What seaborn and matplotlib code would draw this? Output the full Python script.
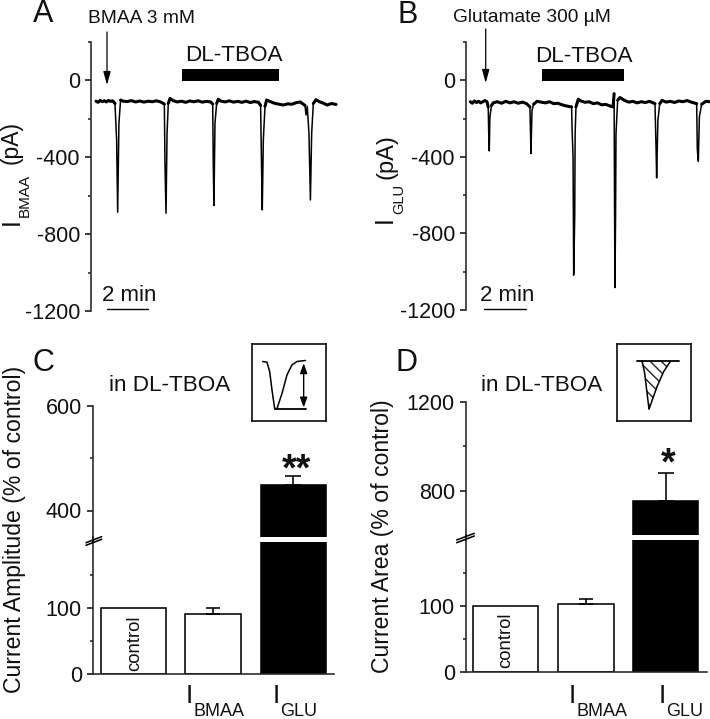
import matplotlib
matplotlib.use('Agg')
import matplotlib.pyplot as plt
import seaborn as sns
import pandas as pd
from matplotlib.lines import Line2D
from matplotlib.patches import Rectangle, FancyArrowPatch

# panel A trace, minutes / pA
time_a = [0, .1, .2, .3, .4, .5, .6, .7, .8, .91, .99, 1.04, 1.10, 1.18, 1.3, 1.5, 1.7, 1.9, 2.1, 2.3, 2.5, 2.7,
          2.9, 3.1, 3.28, 3.31, 3.36, 3.41, 3.47, 3.55, 3.7, 3.9, 4.1, 4.3, 4.5, 4.7, 4.9, 5.1, 5.3, 5.5, 5.60,
          5.63, 5.66, 5.71, 5.79, 5.87, 6.0, 6.2, 6.4, 6.6, 6.8, 7.0, 7.2, 7.4, 7.6, 7.8, 7.90, 7.95, 7.98, 8.03,
          8.11, 8.19, 8.4, 8.6, 8.8, 9.0, 9.2, 9.4, 9.6, 9.8, 10.03, 10.08, 10.14, 10.22, 10.29, 10.35, 10.43,
          10.56, 10.7, 10.9, 11.1, 11.3, 11.52]
current_a = [-108, -114, -104, -110, -106, -112, -104, -109, -106, -120, -310, -686, -223, -102, -108, -110, -105,
             -112, -107, -113, -108, -111, -106, -112, -123, -431, -691, -275, -120, -94, -105, -112, -108, -114,
             -107, -111, -106, -113, -109, -112, -122, -449, -651, -223, -120, -98, -108, -112, -106, -113, -109,
             -114, -108, -115, -110, -114, -130, -483, -674, -310, -135, -102, -112, -120, -124, -128, -122, -124,
             -116, -112, -130, -180, -135, -275, -622, -275, -120, -100, -110, -118, -128, -120, -125]

# panel B trace
time_b = [0, .1, .2, .3, .4, .5, .6, .7, .8, .86, .89, .91, .94, 1.02, 1.1, 1.3, 1.5, 1.7, 1.9, 2.1, 2.3, 2.5, 2.7,
          2.86, 2.89, 2.91, 2.96, 3.04, 3.2, 3.4, 3.6, 3.8, 4.0, 4.2, 4.4, 4.6, 4.86, 4.89, 4.93, 4.96, 5.01, 5.03,
          5.07, 5.18, 5.3, 5.5, 5.7, 5.9, 6.1, 6.3, 6.5, 6.7, 6.85, 6.9, 6.92, 6.94, 6.97, 6.99, 7.07, 7.18, 7.4,
          7.6, 7.8, 8.0, 8.2, 8.4, 8.6, 8.86, 8.91, 8.94, 9.0, 9.09, 9.2, 9.4, 9.6, 9.8, 10.0, 10.2, 10.4, 10.6,
          10.86, 10.89, 10.94, 10.99, 11.1, 11.3, 11.5]
current_b = [-112, -120, -108, -116, -110, -118, -112, -106, -112, -139, -315, -369, -191, -131, -118, -112, -120,
             -110, -118, -112, -120, -114, -122, -139, -279, -383, -157, -125, -110, -114, -118, -112, -122, -120,
             -128, -134, -139, -279, -400, -1018, -714, -279, -139, -99, -108, -115, -112, -122, -118, -128, -126,
             -134, -139, -70, -640, -1083, -700, -279, -104, -90, -105, -114, -110, -118, -112, -116, -110, -122,
             -345, -510, -209, -122, -105, -114, -110, -116, -108, -112, -106, -114, -122, -358, -423, -191, -125,
             -110, -112]

# DL-TBOA application, minutes
tboa_a = [4.13, 8.8]
tboa_b = [3.46, 7.36]

# bar panels, % of control
categories = ['control', 'I_BMAA', 'I_GLU']
amplitude = [100, 91, 448]
amplitude_err = [0, 9, 18]
area = [100, 103, 755]
area_err = [0, 7, 123]

# inset sketches, drawn in the box's own units
sketch_c_x = [787, 800, 808, 815, 823, 830, 845, 860, 875, 890, 915]
sketch_c_y = [95, 97, 125, 180, 235, 235, 190, 135, 105, 95, 92]
sketch_d_x = [860, 868, 881, 905, 925, 945]
sketch_d_y = [93, 130, 237, 170, 125, 95]

W, H = 710, 719
sns.set_theme(style='ticks')
plt.rcParams['font.family'] = ['Liberation Sans', 'DejaVu Sans']
plt.rcParams['axes.unicode_minus'] = False
LW = 1.15


def px_axes(fig, left, top, right, bottom):
    ax = fig.add_axes([left / W, 1 - bottom / H, (right - left) / W, (bottom - top) / H])
    ax.patch.set_alpha(0)
    return ax


def label(fig, x, y, s, size=16, **kw):
    kw.setdefault('ha', 'center')
    kw.setdefault('va', 'baseline')
    fig.text(x / W, 1 - y / H, s, fontsize=size, color='#111111', **kw)


def vlabel(fig, x, y, s, size=16):
    label(fig, x, y, s, size=size, rotation=90, rotation_mode='anchor')


def style_axis(ax, major, minor, left=True, bottom=False):
    sns.despine(ax=ax, top=True, right=True, left=not left, bottom=not bottom)
    ax.spines['left'].set_linewidth(LW)
    ax.spines['bottom'].set_linewidth(LW)
    ax.set_yticks(major)
    ax.set_yticks(minor, minor=True)
    ax.tick_params(axis='y', which='major', length=4.5, width=LW, labelsize=15.5, pad=3.5, colors='#111111')
    ax.tick_params(axis='y', which='minor', length=2.4, width=LW)
    ax.set_xticks([])
    ax.set_xlabel('')
    ax.set_ylabel('')


def trace_panel(fig, box, xlim, time, current, tboa):
    ax = px_axes(fig, *box)
    df = pd.DataFrame({'t': time, 'i': current})
    sns.lineplot(data=df, x='t', y='i', color='black', lw=1.1, ax=ax, estimator=None, sort=False)
    # the noisy baseline looks thicker than the spikes
    quiet = df['i'] > -145
    base = df[quiet].assign(seg=(~quiet).cumsum()[quiet])
    sns.lineplot(data=base, x='t', y='i', units='seg', color='black', lw=2.2, ax=ax, estimator=None, sort=False)
    ax.add_patch(Rectangle((tboa[0], -5), tboa[1] - tboa[0], 62, color='black', lw=0))
    ax.set_xlim(*xlim)
    ax.set_ylim(-1200, 200)
    style_axis(ax, [-1200, -800, -400, 0], [-1000, -600, -200, 200])
    return ax


def bar_panel(fig, x_left, x_right, tops, bottoms, low_lim, high_lim, high_ticks, values, errors):
    xlim = (-(x_left[1] - x_left[0]) / 80, x_right)
    low = px_axes(fig, x_left[0], tops[1], x_left[0] + (xlim[1] - xlim[0]) * 80, bottoms[1])
    high = px_axes(fig, x_left[0], tops[0], x_left[0] + (xlim[1] - xlim[0]) * 80, bottoms[0])
    for ax in (low, high):
        sns.barplot(x=categories, y=values, hue=categories, palette=['white', 'white', 'black'], saturation=1,
                    legend=False, edgecolor='black', linewidth=LW, width=0.81, ax=ax)
        bar = ax.patches[1]
        bar.set_x(1 - 0.35)
        bar.set_width(0.70)
        ax.set_xlim(*xlim)
    low.errorbar([1], [values[1]], yerr=[[0], [errors[1]]], color='black', lw=LW, capsize=5, capthick=LW)
    high.errorbar([2], [values[2]], yerr=[[0], [errors[2]]], color='black', lw=LW, capsize=6, capthick=LW)
    low.set_ylim(*low_lim)
    high.set_ylim(*high_lim)
    style_axis(low, [0, 100], [50, 150], bottom=True)
    style_axis(high, high_ticks[:2], high_ticks[2:])
    return low, high


def slash(fig, x0, y0, x1, y1):
    fig.add_artist(Line2D([x0 / W, x1 / W], [1 - y0 / H, 1 - y1 / H], color='black', lw=LW))


def i_tick(fig, x, y, sub):
    label(fig, x, y, 'I', size=19, ha='left')
    label(fig, x + 7.5, y + 13, sub, size=13, ha='left')


fig = plt.figure(figsize=(W / 100, H / 100), dpi=100, facecolor='white')

# A and B, current traces
trace_panel(fig, (91, 42, 340, 311), (-0.24, 11.71), time_a, current_a, tboa_a)
trace_panel(fig, (466, 42, 710, 310), (-0.206, 11.5), time_b, current_b, tboa_b)

label(fig, 43, 22, 'A', size=22)
label(fig, 408, 23, 'B', size=22)
label(fig, 43, 371, 'C', size=22)
label(fig, 407, 371, 'D', size=22)

label(fig, 142, 23, 'BMAA 3 mM', size=13.8)
label(fig, 532, 22, 'Glutamate 300 µM', size=13.8)
label(fig, 234, 61, 'DL-TBOA', size=16.2)
label(fig, 584, 61.5, 'DL-TBOA', size=16.2)

for x, y0, y1 in [(107, 32, 85), (485.7, 29, 83)]:
    fig.add_artist(FancyArrowPatch(
        (x / W, 1 - y0 / H), (x / W, 1 - y1 / H), transform=fig.transFigure,
        arrowstyle='-|>,head_width=2.2,head_length=8', color='black', lw=0.9, shrinkA=0, shrinkB=0))

for x, x0, x1 in [(129, 107, 148), (507, 484, 526)]:
    label(fig, x, 301, '2 min', size=16)
    fig.add_artist(Line2D([x0 / W, x1 / W], [1 - 309 / H] * 2, color='black', lw=1.0))

vlabel(fig, 19, 222, 'I', size=18)
vlabel(fig, 29, 195, 'BMAA', size=11)
vlabel(fig, 18, 143, '(pA)', size=16.5)
vlabel(fig, 392, 220, 'I', size=18)
vlabel(fig, 403, 199, 'GLU', size=10.5)
vlabel(fig, 392, 157, '(pA)', size=17)

# C and D, normalised bars with a broken axis
bar_panel(fig, (93, 133.3), 2.51, (405.7, 542.3), (536.7, 674.3), (0, 200), (350, 600), [400, 600, 500],
          amplitude, amplitude_err)
bar_panel(fig, (466, 505.7), 2.51, (402, 539.7), (535, 671.7), (0, 200), (600, 1200), [800, 1200, 1000],
          area, area_err)

for x in (93, 466):
    top, bottom = (536.7, 542.3) if x == 93 else (535, 539.7)
    fig.add_artist(Line2D([x / W] * 2, [1 - top / H, 1 - bottom / H], color='black', lw=LW))
slash(fig, 86, 542.7, 101.7, 536.7)
slash(fig, 86, 545.3, 101.7, 539.3)
slash(fig, 456.7, 540, 474.3, 533.3)
slash(fig, 456.7, 542.7, 474.3, 536)

label(fig, 170, 391, 'in DL-TBOA', size=16.2)
label(fig, 541.5, 391, 'in DL-TBOA', size=16.2)
vlabel(fig, 21, 529, 'Current Amplitude (% of control)', size=16.6)
vlabel(fig, 389, 536.5, 'Current Area (% of control)', size=16.6)
vlabel(fig, 139, 643, 'control', size=13.4)
vlabel(fig, 510.7, 640, 'control', size=13.4)

i_tick(fig, 186, 703, 'BMAA')
i_tick(fig, 273, 703, 'GLU')
i_tick(fig, 569, 703, 'BMAA')
i_tick(fig, 659, 703, 'GLU')

label(fig, 296, 480, '**', size=27, fontweight='bold')
label(fig, 667.7, 474, '*', size=27, fontweight='bold')

# inset sketches
box_c = px_axes(fig, 252, 344, 326, 421)
box_c.set_xlim(755, 977)
box_c.set_ylim(272, 43)
sns.lineplot(x=sketch_c_x, y=sketch_c_y, color='black', lw=1.1, ax=box_c, estimator=None, sort=False)
box_c.plot([sketch_c_x[4], 916], [236, 236], color='black', lw=1.3)
box_c.annotate('', xy=(910, 100), xytext=(910, 232), arrowprops=dict(
    arrowstyle='<|-|>,head_width=0.18,head_length=0.5', color='black', lw=1, shrinkA=0, shrinkB=0))

box_d = px_axes(fig, 617, 344, 691, 421)
box_d.set_xlim(785, 1007)
box_d.set_ylim(272, 43)
box_d.fill_between(sketch_d_x, sketch_d_y, [93] * len(sketch_d_x), facecolor='white', edgecolor='#222222',
                   hatch='\\\\\\', lw=0)
sns.lineplot(x=sketch_d_x, y=sketch_d_y, color='black', lw=1.1, ax=box_d, estimator=None, sort=False)
box_d.plot([845, 970], [93, 93], color='black', lw=1.3)

for box in (box_c, box_d):
    box.set_xticks([])
    box.set_yticks([])
    box.set_xlabel('')
    box.set_ylabel('')
    for spine in box.spines.values():
        spine.set_visible(True)
        spine.set_linewidth(LW)
        spine.set_color('black')

fig.savefig('out.png', dpi=100)
